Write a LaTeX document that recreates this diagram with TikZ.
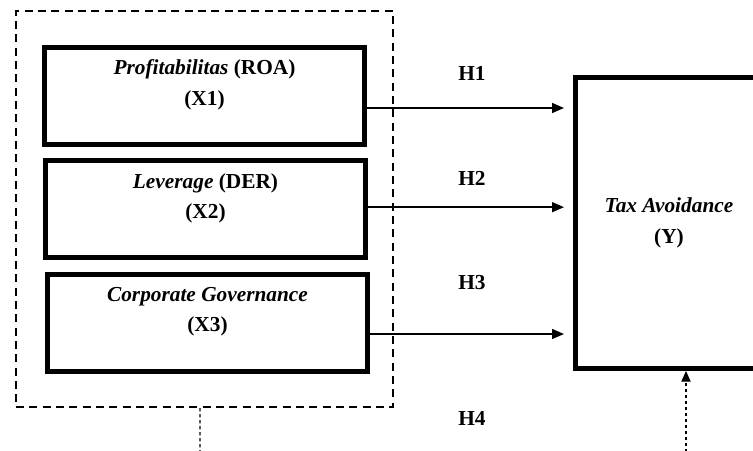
\documentclass[tikz,border=0pt]{standalone}
\usepackage{fontspec}
\setmainfont{Liberation Serif}
\usetikzlibrary{arrows.meta, positioning}

\begin{document}
\begin{tikzpicture}[x=0.75pt, y=-0.75pt, font=\fontsize{16pt}{23pt}\selectfont\bfseries]

        % Setup the styles for the boxes and links
        \tikzset{var style/.style={draw, rectangle,
                                   minimum width=240pt,
                                   minimum height=72.75pt,
                                   line width=3.75pt},
                 group style/.style={draw, rectangle,
                                     dash pattern=on 6pt off 4pt,
                                     line width=1.5pt,
                                     minimum width=282.75pt,
                                     minimum height=297pt},
                 text style/.style={align=center, inner sep=0pt},
                 link style/.style={line width=1.1pt,
                                    -{Triangle[length=9pt, width=7.5pt]},
                                    shorten >=6.75pt},
                 dot style/.style={line width=0.8pt,
                                   dash pattern=on 2.5pt off 2pt}}

        \clip (0,0) rectangle (753,450);

        % Draw the boxes
        \node[group style] at (204.5, 209)  (grp) {};
        \node[var style]   at (204.5, 96)   (x1)  {};
        \node[var style]   at (205.5, 208.5) (x2) {};
        \node[var style]   at (207.5, 323)  (x3)  {};
        \node[var style, minimum width=165.75pt, minimum height=218.25pt]
                           at (686, 223)    (y)   {};

        % Texts inside the boxes
        \node[text style] at ([yshift=8.4pt]x1.center)  (x1t) {\textit{Profitabilitas} (ROA)\\(X1)};
        \node[text style] at ([yshift=7.6pt]x2.center)  (x2t) {\textit{Leverage} (DER)\\(X2)};
        \node[text style] at ([yshift=8.4pt]x3.center)  (x3t) {\textit{Corporate Governance}\\(X3)};
        \node[text style] at ([xshift=-12.75pt, yshift=0pt]y.center) (yt) {\textit{Tax Avoidance}\\(Y)};

        % Hypothesis labels
        \node[text style] at (472, 73)  (h1) {H1};
        \node[text style] at (472, 178) (h2) {H2};
        \node[text style] at (472, 283) (h3) {H3};
        \node[text style] at (472, 418) (h4) {H4};

        % Connect the boxes with arrows
        \coordinate (a1) at ([yshift=-9pt]x1.east);
        \coordinate (a2) at ([yshift=1pt]x2.east);
        \coordinate (a3) at ([yshift=-8.25pt]x3.east);
        \draw[link style] (a1) -- (a1 -| y.west);
        \draw[link style] (a2) -- (a2 -| y.west);
        \draw[link style] (a3) -- (a3 -| y.west);

        % Dotted lines at the bottom
        \coordinate (d1) at (200, 452);
        \coordinate (d2) at (686, 452);
        \draw[dot style] ([xshift=-3.4pt]grp.south) -- (d1);
        \draw[dot style, -{Triangle[length=8pt, width=7pt]}] (d2) -- (y.south);
    \end{tikzpicture}
\end{document}
